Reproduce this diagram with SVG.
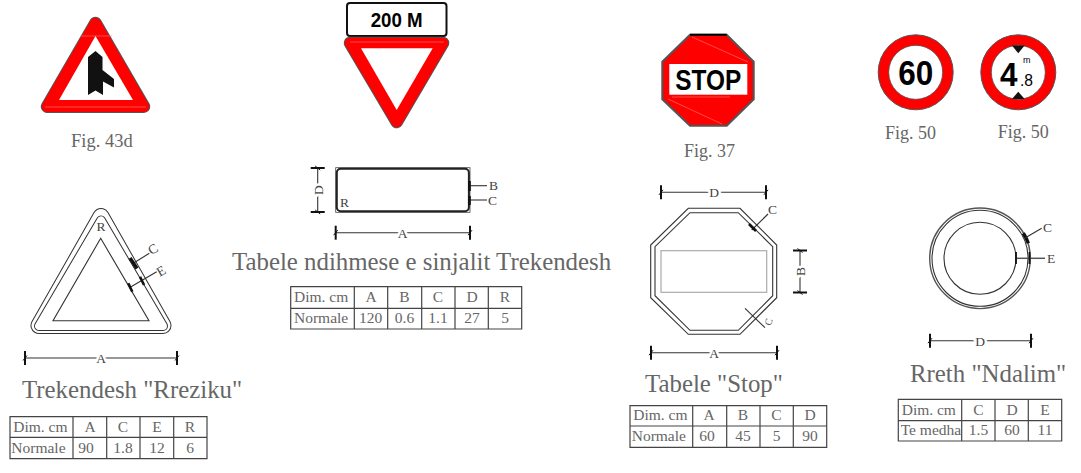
<svg xmlns="http://www.w3.org/2000/svg" width="1081" height="473" viewBox="0 0 1081 473">
<style>
text{font-family:"Liberation Serif","Times New Roman",serif;fill:#666}
.fig{font-size:18px}
.head{font-size:24.85px}
.tc{font-size:15.5px;text-anchor:middle}
.tl{font-size:15.5px}
.lab{font-size:13.5px;fill:#444}
.m{text-anchor:middle;paint-order:stroke;stroke:#fff;stroke-width:5px}
.grid{fill:none;stroke:#444;stroke-width:1.2}
.draw{fill:none;stroke:#333;stroke-width:1.1}
.thin{fill:none;stroke:#555;stroke-width:1.4}
.dim{fill:none;stroke:#333;stroke-width:1.1;marker-start:url(#tick);marker-end:url(#tick)}
.lead{fill:none;stroke:#333;stroke-width:1.1}
.heavy{fill:none;stroke:#111;stroke-width:2.6}
.sans{font-family:"Liberation Sans",Arial,sans-serif;fill:#000;font-weight:700}
.rim{fill:#555;stroke:#555;stroke-width:12.5;stroke-linejoin:round}
.red{fill:#f00;stroke:#f00;stroke-width:10.5;stroke-linejoin:round}
.hi{stroke:#ff7a7a;stroke-width:.6;fill:none}
</style>
<defs>
<marker id="tick" viewBox="-3 -8 6 16" markerWidth="6" markerHeight="16" refX="0" refY="0" orient="auto" markerUnits="userSpaceOnUse">
<path d="M0-7V7" stroke="#111" stroke-width="2"/><path d="M-2 2.500 2-2.500" stroke="#111" stroke-width="1"/>
</marker>
</defs>

<g id="sign-43d">
<polygon class="rim" points="95.5,23 47,106.700 144,106.700"/>
<polygon class="red" points="95.5,23 47,106.700 144,106.700"/>
<path class="hi" d="M45 107H146M80 36H112"/>
<polygon points="95.5,36 59,100 133,100" fill="#fff"/>
<polygon points="95.5,51 102.500,57 102.500,70 114,79 114,87.500 103,81.500 103,95 95.500,90.500 88,95 88,57" fill="#111"/>
<text class="fig" x="71" y="147" style="font-size:18.5px">Fig. 43d</text>
</g>

<g id="sign-yield">
<rect x="347" y="3" width="99.500" height="33" rx="3" fill="#fff" stroke="#111" stroke-width="2"/>
<text class="sans" x="396.700" y="27" font-size="20" text-anchor="middle" textLength="52" lengthAdjust="spacingAndGlyphs">200 M</text>
<polygon class="rim" points="350,43 443,43 396.700,122"/>
<polygon class="red" points="350,43 443,43 396.700,122"/>
<path class="hi" d="M350 42H444"/>
<polygon points="361,48.300 432.700,48.300 396.700,110" fill="#fff"/>
</g>

<g id="sign-stop">
<polygon points="690,34.700 726.700,34.700 753.700,61.700 753.700,99.300 726.700,125.700 690,125.700 662.300,99.300 662.300,61.700" fill="#f00" stroke="#555" stroke-width="2"/>
<path d="M690 34.700H726.700" stroke="#000" stroke-width="2"/>
<path class="hi" d="M692 37 748 62M668 99 722 124M672 97H730"/>
<rect x="669.300" y="64" width="78" height="30.700" fill="#fff"/>
<text class="sans" x="708.300" y="90" font-size="30" text-anchor="middle" textLength="66" lengthAdjust="spacingAndGlyphs">STOP</text>
<text class="fig" x="684" y="157">Fig. 37</text>
</g>

<g id="sign-60">
<circle cx="915.700" cy="72.300" r="32.200" fill="#fff" stroke="#f00" stroke-width="10.600"/>
<circle cx="915.700" cy="72.300" r="37.500" fill="none" stroke="#555" stroke-width="1"/>
<circle cx="915.700" cy="72.300" r="27" fill="none" stroke="#555" stroke-width=".8"/>
<text class="sans" x="915.700" y="85" font-size="35" text-anchor="middle" textLength="35" lengthAdjust="spacingAndGlyphs">60</text>
<text class="fig" x="885" y="139">Fig. 50</text>
</g>

<g id="sign-48">
<circle cx="1018.300" cy="72.300" r="32.200" fill="#fff" stroke="#f00" stroke-width="10.600"/>
<circle cx="1018.300" cy="72.300" r="37.500" fill="none" stroke="#555" stroke-width="1"/>
<circle cx="1018.300" cy="72.300" r="27" fill="none" stroke="#555" stroke-width=".8"/>
<polygon points="1012,45.500 1024.600,45.500 1018.300,53.300" fill="#111"/>
<polygon points="1012,99 1024.600,99 1018.300,91.700" fill="#111"/>
<text class="sans" x="1000" y="85.500" font-size="33" textLength="17.500" lengthAdjust="spacingAndGlyphs">4</text>
<text class="sans" x="1020" y="85.500" font-size="16" style="font-weight:400" textLength="13" lengthAdjust="spacingAndGlyphs">.8</text>
<text class="sans" x="1026.700" y="63" font-size="9" text-anchor="middle" style="font-weight:400">m</text>
<text class="fig" x="997.700" y="138">Fig. 50</text>
</g>

<g id="drawing-triangle" stroke-linejoin="round">
<polygon points="101,216.500 39,325.500 163,325.500" fill="#333" stroke="#333" stroke-width="17"/>
<polygon points="101,216.500 39,325.500 163,325.500" fill="#fff" stroke="#fff" stroke-width="15"/>
<polygon points="101,220.500 39,326 163,326" fill="#333" stroke="#333" stroke-width="10"/>
<polygon points="101,220.500 39,326 163,326" fill="#fff" stroke="#fff" stroke-width="8"/>
<polygon class="draw" points="100.700,238.300 53,320.700 149,320.700" stroke-linejoin="miter"/>
<text class="lab" x="101" y="231" text-anchor="middle">R</text>
</g>

<g id="drawing-plate">
<rect x="335.700" y="167.700" width="134.300" height="44.600" fill="none" stroke="#444" stroke-width=".8"/>
<rect x="336.800" y="168.800" width="132.100" height="42.400" rx="4" fill="none" stroke="#222" stroke-width="2"/>
<text class="lab" x="340" y="206.500">R</text>
</g>

<g id="drawing-octagon">
<polygon class="draw" points="688.300,208.300 740,208.300 776.700,245 776.700,297.700 740,334.300 688.300,334.300 650.700,297.700 650.700,245"/>
<polygon class="draw" points="690,212.700 738.300,212.700 772.700,246.700 772.700,295.700 738.300,330.300 690,330.300 655,295.700 655,246.700"/>
<rect x="661" y="250.700" width="105.700" height="41.600" fill="none" stroke="#aaa" stroke-width="1.200"/>
</g>

<g id="drawing-circle">
<circle cx="980" cy="258.300" r="50.300" class="thin"/>
<circle cx="980" cy="258.300" r="48" class="draw"/>
<circle cx="980" cy="258.300" r="36" class="draw"/>
</g>

<g id="connectors">
<line class="dim" x1="25" y1="358" x2="177" y2="358"/>
<line class="lead" x1="133.300" y1="263.300" x2="149.300" y2="253.300"/>
<line class="lead" x1="129.300" y1="287.700" x2="156.700" y2="271.700"/>
<path class="heavy" d="M130 258 137 268.500" style="stroke-width:3.500"/>
<path class="heavy" d="M128.300 283.300 132.300 291.700M140 276.700 144 285"/>
<line class="dim" x1="317.700" y1="168" x2="317.700" y2="212"/>
<line class="dim" x1="335.700" y1="232.700" x2="470" y2="232.700"/>
<line class="lead" x1="470" y1="185.700" x2="487" y2="185.700"/>
<line class="lead" x1="470" y1="200" x2="487" y2="200"/>
<path class="heavy" d="M469.500 181V191M469.500 196V205"/>
<line class="dim" x1="661" y1="192.300" x2="766" y2="192.300"/>
<line class="dim" x1="800" y1="250.500" x2="800" y2="292.500"/>
<line class="dim" x1="651" y1="352.700" x2="777" y2="352.700"/>
<line class="lead" x1="751.700" y1="230" x2="768" y2="214"/>
<path class="heavy" d="M749 224 756 231"/>
<line class="lead" x1="745" y1="308.300" x2="765" y2="327.700"/>
<path class="heavy" d="M1023.300 233.300Q1026.500 238 1028.300 243.300" style="stroke-width:3.500"/>
<line class="lead" x1="1025" y1="238" x2="1041.700" y2="228.300"/>
<line class="lead" x1="1016" y1="258.300" x2="1045" y2="258.300" style="stroke:#555;stroke-width:1.500"/>
<path class="heavy" d="M1016 252V264M1029.500 252V264" style="stroke-width:1.800"/>
<line class="dim" x1="930" y1="340.700" x2="1031" y2="340.700"/>
</g>

<g id="dimension-labels">
<text class="lab m" x="101" y="362.500">A</text>
<text class="lab" x="153" y="253.500" text-anchor="middle" transform="rotate(-30 153 249)">C</text>
<text class="lab" x="161" y="275.500" text-anchor="middle" transform="rotate(-30 161 271)">E</text>
<text class="lab m" x="322.500" y="190" transform="rotate(-90 322.500 190)">D</text>
<text class="lab m" x="402.500" y="237.500">A</text>
<text class="lab" x="489" y="190">B</text>
<text class="lab" x="488" y="205">C</text>
<text class="lab m" x="714" y="197">D</text>
<text class="lab m" x="804.500" y="271.500" transform="rotate(-90 804.500 271.500)">B</text>
<text class="lab m" x="714" y="357.500">A</text>
<text class="lab" x="772.500" y="213.500" text-anchor="middle">C</text>
<text class="lab" x="769" y="325" text-anchor="middle" style="font-size:10px" transform="rotate(-75 769 322)">C</text>
<text class="lab" x="1043" y="232">C</text>
<text class="lab" x="1047" y="263">E</text>
<text class="lab m" x="980" y="345.500">D</text>
</g>

<g id="headings">
<text class="head" x="22" y="398">Trekendesh "Rreziku"</text>
<text class="head" x="232" y="270">Tabele ndihmese e sinjalit Trekendesh</text>
<text class="head" x="645" y="392">Tabele "Stop"</text>
<text class="head" x="910" y="382">Rreth "Ndalim"</text>
</g>

<g id="table-rreziku">
<path class="grid" d="M10 416.700H207V458.700H10ZM10 437.300H207M73 416.700V458.700M106.700 416.700V458.700M140 416.700V458.700M173.700 416.700V458.700"/>
<text class="tl" x="13.300" y="431.700">Dim. cm</text><text class="tc" x="90" y="431.700">A</text><text class="tc" x="123" y="431.700">C</text><text class="tc" x="157" y="431.700">E</text><text class="tc" x="190" y="431.700">R</text>
<text class="tl" x="11.300" y="453.300">Normale</text><text class="tc" x="86" y="453.300">90</text><text class="tc" x="123" y="453.300">1.8</text><text class="tc" x="157" y="453.300">12</text><text class="tc" x="190" y="453.300">6</text>
</g>

<g id="table-tabele">
<path class="grid" d="M290.700 286.700H521.700V329H290.700ZM290.700 308.300H521.700M354.300 286.700V329M387.700 286.700V329M421.700 286.700V329M455 286.700V329M488.300 286.700V329"/>
<text class="tl" x="294" y="301.700">Dim. cm</text><text class="tc" x="371" y="301.700">A</text><text class="tc" x="404.500" y="301.700">B</text><text class="tc" x="438" y="301.700">C</text><text class="tc" x="472" y="301.700">D</text><text class="tc" x="505" y="301.700">R</text>
<text class="tl" x="294" y="322.700">Normale</text><text class="tc" x="370.500" y="322.700">120</text><text class="tc" x="404.500" y="322.700">0.6</text><text class="tc" x="438" y="322.700">1.1</text><text class="tc" x="472" y="322.700">27</text><text class="tc" x="505" y="322.700">5</text>
</g>

<g id="table-stop">
<path class="grid" d="M630 405.700H826.700V447.300H630ZM630 426H826.700M692.700 405.700V447.300M726.700 405.700V447.300M760 405.700V447.300M793.300 405.700V447.300"/>
<text class="tl" x="633.300" y="420">Dim. cm</text><text class="tc" x="709" y="420">A</text><text class="tc" x="743" y="420">B</text><text class="tc" x="776.500" y="420">C</text><text class="tc" x="810" y="420">D</text>
<text class="tl" x="631.700" y="441">Normale</text><text class="tc" x="707" y="441">60</text><text class="tc" x="743" y="441">45</text><text class="tc" x="776.500" y="441">5</text><text class="tc" x="810" y="441">90</text>
</g>

<g id="table-ndalim">
<path class="grid" d="M898.300 399.300H1061.700V441H898.300ZM898.300 420.700H1061.700M961.700 399.300V441M995 399.300V441M1028.300 399.300V441"/>
<text class="tl" x="901.700" y="415">Dim. cm</text><text class="tc" x="978.500" y="415">C</text><text class="tc" x="1012" y="415">D</text><text class="tc" x="1045" y="415">E</text>
<text class="tl" x="900.700" y="435">Te medha</text><text class="tc" x="978.500" y="435">1.5</text><text class="tc" x="1012" y="435">60</text><text class="tc" x="1045" y="435">11</text>
</g>
</svg>
